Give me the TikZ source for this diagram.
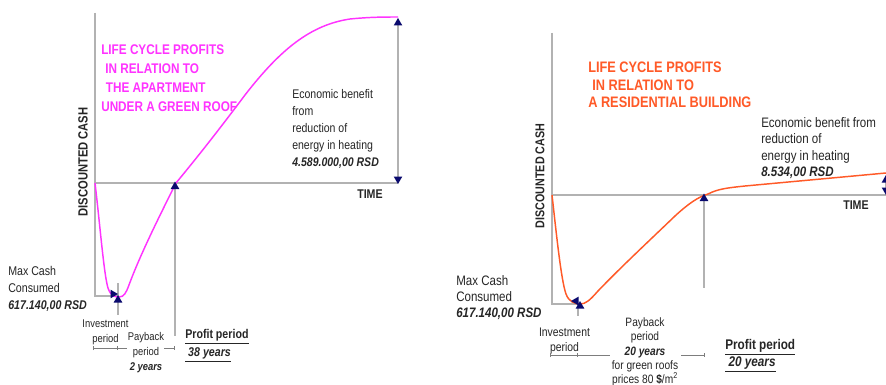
\documentclass[tikz,border=0pt]{standalone}
\usepackage{fontspec}
\setmainfont{Liberation Sans}[FakeStretch=0.84]
\usetikzlibrary{shapes.geometric,arrows.meta}
\definecolor{gline}{HTML}{B2B2B2}
\definecolor{navy}{HTML}{0A0A6E}
\definecolor{mag}{HTML}{FF33FF}
\definecolor{org}{HTML}{FF5A28}
\definecolor{txt}{HTML}{262626}
\begin{document}
\begin{tikzpicture}[x=0.75pt,y=-0.75pt,
  axis/.style={draw=gline,line width=0.9pt},
  dim/.style={draw=gline!70!black,line width=0.6pt},
  tri/.style={regular polygon,regular polygon sides=3,fill=navy,inner sep=0pt,minimum size=7.5pt},
  lbl/.style={inner sep=0pt,anchor=north west,text=txt,align=left},
  clbl/.style={inner sep=0pt,anchor=north,text=txt,align=center},
  ttl/.style={inner sep=0pt,anchor=north west,align=left,font=\bfseries},
  curveL/.style={draw=mag,line width=1.1pt},
  curveR/.style={draw=org,line width=1.1pt}]
\useasboundingbox (0,0) rectangle (886,385);
\fill[white] (0,0) rectangle (886,385);

% ---------------- LEFT CHART ----------------
\coordinate (LyTop) at (95,13);
\coordinate (LO) at (95,183);
\coordinate (LboxBL) at (95,296);
\coordinate (Lmin) at (118,296);
\coordinate (LxEnd) at (398,183);
\coordinate (LbTop) at (398,19);
\coordinate (Lpay) at (175,183);
\coordinate (LpayBot) at (175,336);
\coordinate (LinvTop) at (118,283);
\coordinate (LinvBot) at (118,315);

\draw[axis] (LyTop) -- (LboxBL) -- (Lmin);
\draw[axis] (LO) -- (LxEnd);
\draw[axis] (LbTop) -- (LxEnd);
\draw[axis] (Lpay) -- (LpayBot);
\draw[axis] (LinvTop) -- (LinvBot);

\draw[curveL] (95,183) .. controls (100,225) and (104,275) .. (108,288)
  .. controls (111,297) and (116,297) .. (119,297)
  .. controls (124,297) and (126,293) .. (129,285)
  .. controls (140,255) and (160,215) .. (176,183)
  .. controls (195,160) and (215,135) .. (245,95)
  .. controls (280,50) and (310,25) .. (350,19)
  .. controls (370,17) and (385,17) .. (398,17);

\node[tri] (LtA) at (398,23) {};
\node[tri,rotate=180] (LtB) at (398,179) {};
\node[tri] (LtP) at (175,186.5) {};
\node[tri,rotate=-90] (LtM1) at (113,294) {};
\node[tri] (LtM2) at (118,300) {};

\node[ttl,text=mag,font=\bfseries\fontsize{10.5}{14.2}\selectfont] (Ltitle) at (101,44.5)
  {LIFE CYCLE PROFITS\\\hspace{3pt}IN RELATION TO\\\hspace{3.5pt}THE APARTMENT\\UNDER A GREEN ROOF};
\node[lbl,font=\fontsize{9.4}{12.75}\selectfont] (Lecon) at (292,89.5)
  {Economic benefit\\from\\reduction of\\energy in heating\\\textbf{\textit{4.589.000,00 RSD}}};
\node[lbl,font=\bfseries\fontsize{9.5}{11}\selectfont] (Ltime) at (357,189.5) {TIME};
\node[inner sep=0pt,rotate=90,text=txt,font=\bfseries\fontsize{10}{11}\selectfont] (Lycap) at (83,162) {DISCOUNTED CASH};
\node[lbl,font=\fontsize{9.5}{12.75}\selectfont] (Lmax) at (8,266.5)
  {Max Cash\\Consumed\\\textbf{\textit{617.140,00 RSD}}};
\node[clbl,font=\fontsize{8.4}{11.25}\selectfont] (Linv) at (105.5,320) {Investment\\period};
\node[clbl,font=\fontsize{8.4}{11.25}\selectfont] (Lpb) at (146,332) {Payback\\period\\\textbf{\textit{2 years}}};
\node[lbl,font=\fontsize{9.5}{13.5}\selectfont] (Lprofit) at (185,329.5)
  {\underline{\textbf{Profit period}}\\\underline{\textbf{\textit{\ 38 years}}}};

\coordinate (Ld1) at (93,348);
\coordinate (Ld2) at (118,348);
\coordinate (Ld3) at (127,348);
\coordinate (Ld4) at (164,348);
\coordinate (Ld5) at (175,348);
\draw[dim,{Bar[width=3pt]}-{Bar[width=3pt]}] (Ld1) -- (Ld2);
\draw[dim] (Ld2) -- (Ld3);
\draw[dim,-{Bar[width=3pt]}] (Ld4) -- (Ld5);

% ---------------- RIGHT CHART ----------------
\coordinate (RyTop) at (552,33);
\coordinate (RO) at (552,195);
\coordinate (RboxBL) at (552,304);
\coordinate (Rmin) at (580,304);
\coordinate (RxEnd) at (890,195);
\coordinate (Rpay) at (704,195);
\coordinate (RpayBot) at (704,288);
\coordinate (RinvTop) at (578,304);
\coordinate (RinvBot) at (578,316);
\coordinate (RbTop) at (886,176);
\coordinate (RbBot) at (886,192);

\draw[axis] (RyTop) -- (RboxBL) -- (Rmin);
\draw[axis] (RO) -- (RxEnd);
\draw[axis] (Rpay) -- (RpayBot);
\draw[axis] (RinvTop) -- (RinvBot);
\draw[axis] (RbTop) -- (RbBot);

\draw[curveR] (552,195) .. controls (556,230) and (561,280) .. (566,294)
  .. controls (569,302) and (575,304) .. (580,304)
  .. controls (586,304) and (590,300) .. (598,291)
  .. controls (620,268) and (650,240) .. (675,216)
  .. controls (688,204) and (698,197) .. (708,194)
  .. controls (718,189) and (726,188) .. (745,186)
  -- (886,173);

\node[tri] (RtP) at (704,198.5) {};
\node[tri,rotate=-30] (RtM1) at (576,301) {};
\node[tri] (RtM2) at (580,306) {};
\node[tri] (RtA) at (886,180) {};
\node[tri,rotate=180] (RtB) at (886,190) {};

\node[ttl,text=org,font=\bfseries\fontsize{11.4}{13.1}\selectfont] (Rtitle) at (588,62)
  {LIFE CYCLE PROFITS\\\hspace{3pt}IN RELATION TO\\A RESIDENTIAL BUILDING};
\node[lbl,font=\fontsize{10.3}{12.2}\selectfont] (Recon) at (761,117.5)
  {Economic benefit from\\reduction of\\energy in heating\\\textbf{\textit{8.534,00 RSD}}};
\node[lbl,font=\bfseries\fontsize{9.5}{11}\selectfont] (Rtime) at (843,201) {TIME};
\node[inner sep=0pt,rotate=90,text=txt,font=\bfseries\fontsize{9.6}{11}\selectfont] (Rycap) at (540,176) {DISCOUNTED CASH};
\node[lbl,font=\fontsize{10.3}{12}\selectfont] (Rmax) at (456,275)
  {Max Cash\\Consumed\\\textbf{\textit{617.140,00 RSD}}};
\node[clbl,font=\fontsize{9.3}{11.25}\selectfont] (Rinv) at (564.5,327.5) {Investment\\period};
\node[clbl,font=\fontsize{9.1}{10.7}\selectfont] (Rpb) at (645,317.5)
  {Payback\\period\\\textbf{\textit{20 years}}\\for green roofs\\prices 80 \textbf{\$}/m\textsuperscript{2}};
\node[lbl,font=\fontsize{10.5}{12.75}\selectfont] (Rprofit) at (725,339)
  {\underline{\textbf{Profit period}}\\\underline{\textbf{\textit{\ 20 years}}}};

\coordinate (Rd1) at (550,355);
\coordinate (Rd2) at (578,355);
\coordinate (Rd3) at (610,355);
\coordinate (Rd4) at (681,355);
\coordinate (Rd5) at (705,355);
\draw[dim,{Bar[width=3pt]}-{Bar[width=3pt]}] (Rd1) -- (Rd2);
\draw[dim] (Rd2) -- (Rd3);
\draw[dim,-{Bar[width=3pt]}] (Rd4) -- (Rd5);
\end{tikzpicture}
\end{document}
